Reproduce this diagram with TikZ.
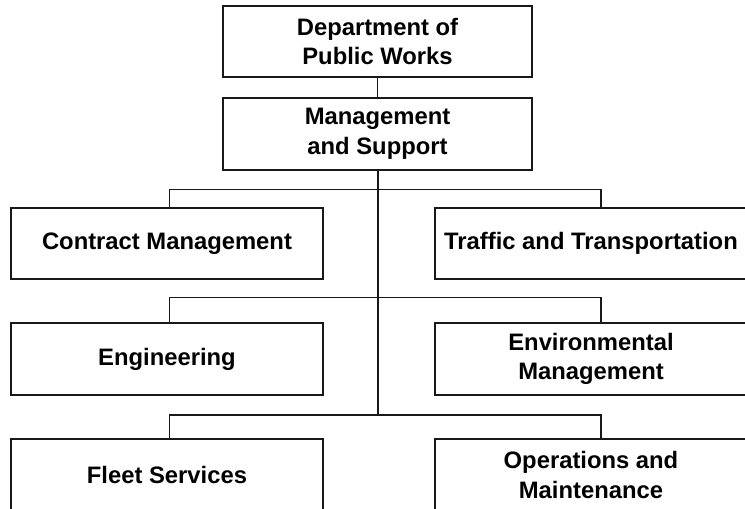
\documentclass[tikz,border=0pt]{standalone}
\usepackage{fontspec}
\setmainfont{Liberation Sans}
\begin{document}
\begin{tikzpicture}[x=1pt,y=1pt,
  unit/.style={draw=black!90, line width=1.4pt, fill=white, align=center,
    inner sep=0pt, font=\bfseries\fontsize{23.8}{29.5}\selectfont,
    minimum height=71pt},
  wideunit/.style={unit, minimum width=309pt},
  sideunit/.style={unit, minimum width=312pt},
  link/.style={draw=black!90, line width=1.4pt}]
\useasboundingbox (0,0) rectangle (745,509);
\clip (0,0) rectangle (745,509);

% top of the hierarchy
\node[wideunit] (dpw)  at (377.5,467.5) {Department of\\Public Works};
\node[wideunit, minimum height=72pt] (mgmt) at (377.5,375) {Management\\and Support};

% divisions, three rows of two
\node[sideunit] (cm)  at (167,265.5) {Contract Management};
\node[sideunit] (tt)  at (591,265.5) {Traffic and Transportation};
\node[sideunit, minimum height=72pt] (eng) at (167,150) {Engineering};
\node[sideunit, minimum height=72pt] (env) at (591,150) {Environmental\\Management};
\node[sideunit, minimum height=72pt] (fs)  at (167,34)  {Fleet Services};
\node[sideunit, minimum height=72pt] (om)  at (591,34)  {Operations and\\Maintenance};

% branch points
\coordinate (xl) at (169.5,0);
\coordinate (xr) at (601,0);
\coordinate (b1) at (378,319.5);
\coordinate (b2) at (378,211.5);
\coordinate (b3) at (378,94);

% connectors
\draw[link] (dpw) -- (mgmt);
\draw[link] (mgmt.south -| b3) -- (b3);
\draw[link] (cm.north -| xl) |- (b1) -| (tt.north -| xr);
\draw[link] (eng.north -| xl) |- (b2) -| (env.north -| xr);
\draw[link] (fs.north -| xl) |- (b3) -| (om.north -| xr);
\end{tikzpicture}
\end{document}
